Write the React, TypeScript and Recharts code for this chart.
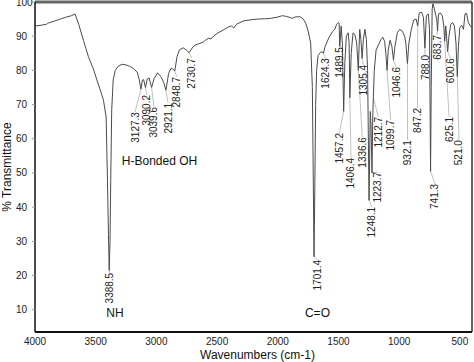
import React from 'react';
import { ComposedChart, Line, XAxis, YAxis, ReferenceLine, ReferenceDot } from 'recharts';

const FONT = '"Liberation Sans", Arial, Helvetica, sans-serif';

// [wavenumber (cm-1), % transmittance]
const spectrumPoints: [number, number][] = [
  [4000, 93.0], [3950, 93.2], [3905, 93.5], [3895, 93.8], [3850, 94.3], [3800, 94.9],
  [3750, 95.5], [3700, 96.0], [3670, 96.5], [3640, 93.5], [3600, 88.7], [3560, 84.0],
  [3520, 80.5], [3490, 77.2], [3460, 74.0], [3436, 71.3], [3414, 66.4], [3403, 48],
  [3395, 32], [3388.5, 21.5], [3382, 30], [3376, 48], [3368, 68.4], [3356, 77.2],
  [3339, 80], [3315, 81.2], [3282, 81.8], [3250, 81.6], [3220, 81.2], [3191, 80.6],
  [3158, 79.5], [3141, 77.2], [3127.3, 74.5], [3115, 77.2], [3105, 77.3], [3090.2, 75],
  [3075, 77.5], [3060, 77.8], [3039.6, 75], [3020, 77.5], [2990, 79.3], [2960, 78],
  [2940, 76.5], [2921.1, 74.2], [2900, 79], [2880, 80.6], [2860, 80.3], [2848.7, 79.8],
  [2830, 84], [2810, 86], [2780, 86.6], [2755, 86], [2730.7, 85.2], [2700, 86.8],
  [2680, 87.4], [2650, 87.8], [2613, 88.3], [2590, 89.0], [2570, 89.4], [2550, 89.2],
  [2530, 90.0], [2500, 90.8], [2450, 91.8], [2406, 92.7], [2380, 93.0], [2362, 92.4],
  [2340, 93.5], [2280, 94.5], [2220, 94.8], [2170, 95.0], [2100, 95.1], [2060, 95.2],
  [2000, 95.6], [1963, 96.0], [1930, 95.8], [1900, 95.5], [1880, 95.2], [1860, 95.6],
  [1840, 95.7], [1812, 95.6], [1790, 95.0], [1770, 93.8], [1750, 91.5], [1729, 88],
  [1715, 75], [1708, 50], [1701.4, 25.5], [1695, 45], [1688, 70], [1680, 80],
  [1668, 84.4], [1650, 85.2], [1635, 85.5], [1624.3, 85], [1610, 87], [1580, 89.5],
  [1550, 91.3], [1530, 92], [1515, 93.5], [1500, 94], [1495, 93.8], [1489.5, 87],
  [1478, 93], [1468, 88], [1457.2, 68], [1448, 82], [1435, 90], [1420, 91],
  [1412, 88], [1406.4, 72], [1395, 85], [1380, 91], [1365, 90.5], [1350, 88],
  [1336.6, 80], [1325, 92], [1315, 89], [1305.4, 83.5], [1295, 89], [1282, 92],
  [1270, 89], [1260, 80], [1248.1, 42], [1238, 68], [1232, 64], [1223.7, 50],
  [1218, 66], [1212.7, 72], [1205, 80], [1190, 86], [1170, 87.5], [1150, 89],
  [1135, 89.7], [1120, 88.5], [1110, 85], [1099.7, 80], [1090, 86], [1075, 88.8],
  [1060, 87], [1046.6, 83], [1035, 87], [1015, 91], [995, 92], [975, 91.5],
  [955, 90], [945, 88], [932.1, 82], [920, 88], [900, 92], [880, 94.7],
  [860, 95], [847.2, 93], [835, 96.8], [815, 97], [800, 95.5], [788, 86.5],
  [776, 96], [760, 96.5], [750, 92], [741.3, 50.5], [736, 75], [728, 98],
  [722, 99.5], [710, 98], [698, 96], [690, 95], [683.7, 91.5], [676, 96.5],
  [660, 96.8], [645, 96], [632, 93], [625.1, 88.5], [616, 93], [600.6, 85.5],
  [590, 90], [575, 93.5], [560, 94], [545, 93], [532, 88], [521, 78.2],
  [512, 87], [500, 92.5], [485, 93.2], [470, 92], [458, 96.5], [445, 96.7],
  [430, 94], [415, 93], [400, 92.5],
];

const xTicks = [4000, 3500, 3000, 2500, 2000, 1500, 1000, 500];
const yTicks = [10, 20, 30, 40, 50, 60, 70, 80, 90, 100];

// peak labels, the dip wavenumber and transmittance
const peakNames = ['3388.5', '3127.3', '3090.2', '3039.6', '2921.1', '2848.7', '2730.7', '1701.4', '1624.3', '1489.5', '1457.2', '1406.4', '1336.6', '1305.4', '1248.1', '1223.7', '1212.7', '1099.7', '1046.6', '932.1', '847.2', '788.0', '741.3', '683.7', '625.1', '600.6', '521.0'];
const peakWn = [3388.5, 3127.3, 3090.2, 3039.6, 2921.1, 2848.7, 2730.7, 1701.4, 1624.3, 1489.5, 1457.2, 1406.4, 1336.6, 1305.4, 1248.1, 1223.7, 1212.7, 1099.7, 1046.6, 932.1, 847.2, 788.0, 741.3, 683.7, 625.1, 600.6, 521.0];
const peakT = [21.5, 74.5, 75, 75, 74.2, 79.8, 85.2, 25.5, 85, 87, 68, 72, 80, 83.5, 42, 50, 72, 80, 83, 82, 93, 86.5, 50.5, 91.5, 88.5, 85.5, 78.2];
// where each label's upper end sits, in data units
const labelWn = [3386, 3176, 3080, 3020, 2904, 2833, 2709, 1669, 1608, 1490, 1493, 1397, 1304, 1295, 1226, 1178, 1172, 1070, 1026, 931, 849, 787, 705, 688, 589, 577, 507];
const labelT = [20.8, 67.8, 72.8, 69.3, 70.5, 78.1, 83.6, 24.6, 83.6, 86.8, 61.7, 54.4, 60.5, 81.6, 40.1, 50.3, 66.4, 65.5, 81, 59.6, 69.0, 84.5, 46.8, 90.4, 66.4, 83.6, 59.6];

const noteTexts = ['H-Bonded OH', 'NH', 'C=O'];
const noteWn = [2974, 3341, 1673];
const noteT = [52.3, 7.75, 7.9];

const spectrum = spectrumPoints.map(([wn, t]) => ({ wn, t }));

const YTick = (props: any) => (
  <text x={props.x - 14} y={props.y} dy="0.35em" textAnchor="start" fontSize={10} fill="#222" fontFamily={FONT}>
    {props.payload.value}
  </text>
);

const XTitle = (props: any) => {
  const vb = props.viewBox || { x: 35, y: 332, width: 437, height: 30 };
  return (
    <text x={vb.x + vb.width / 2 + 4} y={vb.y + 27} textAnchor="middle" fontSize={12} fill="#111" fontFamily={FONT}>
      Wavenumbers (cm-1)
    </text>
  );
};

const YTitle = (props: any) => {
  const vb = props.viewBox || { x: 0, y: 2, width: 35, height: 330 };
  const cy = vb.y + vb.height / 2;
  return (
    <text transform="rotate(-90)" x={-cy} y={vb.x + 11} textAnchor="middle" fontSize={12} fill="#111" fontFamily={FONT}>
      % Transmittance
    </text>
  );
};

export default function App() {
  return (
    <div style={{ position: 'absolute', left: 0, top: 0, width: 474, height: 362, background: '#fff' }}>
      <ComposedChart width={474} height={362} margin={{ top: 2, right: 2, bottom: 0, left: 0 }} style={{ fontFamily: FONT }}>
        <XAxis
          type="number"
          dataKey="wn"
          domain={[400, 4000]}
          reversed
          allowDataOverflow
          ticks={xTicks}
          interval={0}
          height={30}
          tickLine={false}
          tickSize={5}
          tickMargin={1}
          axisLine={{ stroke: '#111', strokeWidth: 2 }}
          tick={{ fill: '#222', fontSize: 10, fontFamily: FONT }}
          label={XTitle}
        />
        <YAxis
          type="number"
          domain={[3.5, 100]}
          allowDataOverflow
          ticks={yTicks}
          interval={0}
          width={35}
          tickSize={3}
          tickMargin={2}
          tickLine={{ stroke: '#999' }}
          axisLine={{ stroke: '#111', strokeWidth: 1.5 }}
          tick={YTick}
          label={YTitle}
        />
        <ReferenceLine y={100} stroke="#666" strokeWidth={3} />
        <ReferenceLine x={400} stroke="#333" strokeWidth={1.5} />
        {peakNames.map((name, i) => (
          <ReferenceLine
            key={'lead' + name}
            segment={[{ x: peakWn[i], y: peakT[i] }, { x: labelWn[i], y: labelT[i] }]}
            stroke="#b0b0b0"
            strokeWidth={0.8}
          />
        ))}
        <Line
          data={spectrum}
          dataKey="t"
          type="linear"
          stroke="#4a4a4a"
          strokeWidth={1}
          dot={false}
          activeDot={false}
          isAnimationActive={false}
        />
        {peakNames.map((name, i) => (
          <ReferenceDot
            key={'lab' + name}
            x={labelWn[i]}
            y={labelT[i]}
            r={0}
            shape={(p: any) => (
              <text
                x={p.cx}
                y={p.cy}
                transform={`rotate(-90 ${p.cx} ${p.cy})`}
                textAnchor="end"
                dominantBaseline="central"
                fontSize={10}
                fill="#222"
                fontFamily={FONT}
              >
                {name}
              </text>
            )}
          />
        ))}
        {noteTexts.map((txt, i) => (
          <ReferenceDot
            key={'note' + txt}
            x={noteWn[i]}
            y={noteT[i]}
            r={0}
            shape={(p: any) => (
              <text x={p.cx} y={p.cy} textAnchor="middle" fontSize={12} fill="#111" fontFamily={FONT}>
                {txt}
              </text>
            )}
          />
        ))}
      </ComposedChart>
    </div>
  );
}
